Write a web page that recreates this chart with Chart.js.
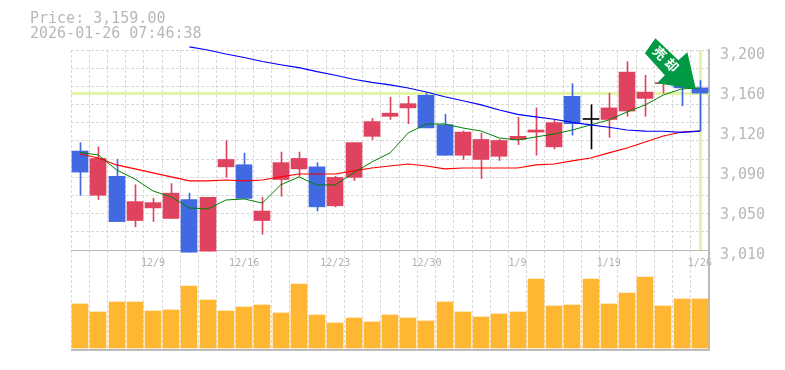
<!DOCTYPE html>
<html>
<head>
<meta charset="utf-8">
<style>
    html, body { margin: 0; padding: 0; background: #fff; }
    canvas { display: block; }
</style>
<script src="https://cdn.jsdelivr.net/npm/chart.js@4"></script>
</head>
<body>
<canvas id="stockChart" width="785" height="370"></canvas>
<script>
const priceText = 'Price: 3,159.00';
const timeText = '2026-01-26 07:46:38';
const arrowChars = ['売', '却'];
const currentPrice = 3159;

// one entry per session, only some carry a date label
const dates = ['', '', '', '', '12/9', '', '', '', '', '12/16', '', '', '', '', '12/23', '', '', '', '', '12/30', '', '', '', '', '1/9', '', '', '', '', '1/19', '', '', '', '', '1/26'];

const opens = [3104, 3062, 3080, 3038, 3050, 3040, 3058, 3009, 3089, 3091, 3038, 3077, 3087, 3089, 3052, 3079, 3118, 3137, 3145, 3157, 3129, 3100, 3096, 3099, 3115, 3122, 3108, 3156, 3134, 3134, 3142, 3154, 3168, 3170, 3164];
const closes = [3084, 3097, 3037, 3056, 3055, 3064, 3008, 3060, 3096, 3059, 3047, 3093, 3097, 3051, 3079, 3112, 3132, 3140, 3149, 3126, 3100, 3122, 3115, 3114, 3118, 3124, 3131, 3130, 3134, 3145, 3179, 3160, 3169, 3164, 3159];
const highs = [3112, 3108, 3096, 3072, 3059, 3073, 3064, 3060, 3114, 3102, 3060, 3103, 3103, 3093, 3080, 3112, 3135, 3155, 3156, 3159, 3139, 3123, 3121, 3115, 3136, 3145, 3134, 3168, 3148, 3159, 3189, 3176, 3170, 3174, 3171];
const lows = [3062, 3058, 3037, 3032, 3037, 3040, 3008, 3009, 3079, 3059, 3025, 3061, 3080, 3047, 3051, 3076, 3115, 3134, 3130, 3126, 3100, 3096, 3078, 3095, 3110, 3100, 3106, 3119, 3106, 3117, 3137, 3137, 3159, 3147, 3123];

const maShort = [3102.6, 3100.3, 3086, 3077.5, 3066.1, 3060.4, 3049.9, 3049, 3057.5, 3058.5, 3054.6, 3071.8, 3079.4, 3071.8, 3071.8, 3083.2, 3093.6, 3102.2, 3121.2, 3129.7, 3129.7, 3125.9, 3123, 3116.4, 3114.5, 3117.4, 3120.2, 3124, 3128.8, 3133.5, 3141.1, 3147.8, 3157.3, 3163, 3163.9];
const maMiddle = [3101.2, 3097.4, 3090.8, 3087, 3083.2, 3079.4, 3075.6, 3075.6, 3076.5, 3075.6, 3076.5, 3079.4, 3082.2, 3082.2, 3082.2, 3085.1, 3087.9, 3089.8, 3091.7, 3089.8, 3087, 3087.9, 3087.9, 3087.9, 3087.9, 3090.8, 3091.7, 3094.6, 3097.4, 3102.2, 3106.9, 3112.6, 3118.3, 3122.1, 3123];
const maLong = [null, null, null, null, null, null, 3202.9, 3200, 3196.2, 3192.9, 3189.1, 3186, 3183.2, 3179.4, 3176, 3172.2, 3169.3, 3166.8, 3163.9, 3160.1, 3155.6, 3151.8, 3147.8, 3143, 3138.9, 3136.4, 3134.2, 3131.3, 3128.8, 3126.6, 3124, 3123, 3122.8, 3121.8, 3123];

const volumes = [440, 360, 460, 460, 370, 380, 620, 480, 370, 410, 430, 350, 640, 330, 250, 300, 260, 330, 300, 270, 460, 360, 310, 340, 360, 690, 420, 430, 690, 440, 550, 710, 420, 490, 490];

// labels sit a little under the price they name, as in the original image
const priceTickValues = [3195.25, 3157.25, 3119.25, 3081.25, 3043.25, 3005.25];
const priceTickLabels = ['3,200', '3,160', '3,120', '3,090', '3,050', '3,010'];
const priceTop = 3200;
const priceBottom = 3010;
const priceGridSteps = 11;

const UP = '#e0435f';
const DOWN = '#4169e1';
const FLAT = '#000000';
const GRID = '#d8d8d8';
const FRAME = '#bbbbbb';
const TEXT = '#b8b8b8';
const MARKER = '#e2f5a6';
const ARROW = '#009944';

function candleColor(i) {
    if (closes[i] > opens[i]) return UP;
    if (closes[i] < opens[i]) return DOWN;
    return FLAT;
}

const candleColors = opens.map((o, i) => candleColor(i));

// price lines drawn under the candles, the arrow and header on top
const overlayPlugin = {
    id: 'overlay',
    afterDatasetUpdate(chart, args) {
        // keep bars on whole pixels so they stay sharp like the original
        const meta = args.meta;
        if (meta.type !== 'bar') return;
        const wick = meta.controller.getDataset().isWick;
        meta.data.forEach(el => {
            el.x = Math.round(el.x) + (wick ? 0.5 : 0);
        });
    },
    beforeDatasetsDraw(chart) {
        const { ctx, chartArea, scales } = chart;
        const y = Math.round(scales.y.getPixelForValue(currentPrice));
        const x = Math.round(scales.x.getPixelForValue(dates.length - 1));
        ctx.save();
        ctx.fillStyle = MARKER;
        ctx.fillRect(chartArea.left, y - 1, chartArea.width, 3);
        ctx.fillRect(x - 1, scales.y.getPixelForValue(priceTop), 3, scales.y.getPixelForValue(priceBottom) - scales.y.getPixelForValue(priceTop));
        ctx.restore();
    },
    afterDraw(chart) {
        const { ctx, scales } = chart;
        const tipX = scales.x.getPixelForValue(dates.length - 1) - 4;
        const tipY = scales.y.getPixelForValue(currentPrice) - 4;
        const outline = [[0, 0], [-39, -6], [-31, -14], [-51, -36], [-40.5, -51], [-17.5, -29], [-8.5, -37]];

        ctx.save();
        ctx.fillStyle = ARROW;
        ctx.beginPath();
        outline.forEach(p => ctx.lineTo(tipX + p[0], tipY + p[1]));
        ctx.closePath();
        ctx.fill();

        ctx.translate(tipX - 30, tipY - 30);
        ctx.rotate(Math.PI / 4);
        ctx.fillStyle = '#ffffff';
        ctx.font = 'bold 13px "Noto Sans CJK JP"';
        ctx.textAlign = 'center';
        ctx.textBaseline = 'middle';
        ctx.fillText(arrowChars[0], -8.5, 0);
        ctx.fillText(arrowChars[1], 8.5, 0);
        ctx.restore();

        ctx.save();
        ctx.fillStyle = TEXT;
        ctx.font = '15px "DejaVu Sans Mono"';
        ctx.textBaseline = 'middle';
        ctx.fillText(priceText, 30, 19);
        ctx.fillText(timeText, 30, 34);
        ctx.restore();
    }
};

const ctx = document.getElementById('stockChart').getContext('2d');
new Chart(ctx, {
    data: {
        labels: dates,
        datasets: [
            { type: 'bar', yAxisID: 'yVol', data: volumes, backgroundColor: '#ffb733', barThickness: 16, grouped: false, order: 5 },
            { type: 'bar', isWick: true, data: lows.map((l, i) => [l, highs[i]]), backgroundColor: candleColors, barThickness: 1, grouped: false, clip: false, order: 4 },
            { type: 'bar', data: opens.map((o, i) => [o, closes[i]]), backgroundColor: candleColors, barThickness: 16, minBarLength: 1, grouped: false, clip: false, order: 3 },
            { type: 'line', data: maMiddle, borderColor: '#ff0000', borderWidth: 1.2, pointRadius: 0, tension: 0, clip: false, order: 2 },
            { type: 'line', data: maShort, borderColor: '#008000', borderWidth: 1, pointRadius: 0, tension: 0, clip: false, order: 1 },
            { type: 'line', data: maLong, borderColor: '#0000ff', borderWidth: 1.2, pointRadius: 0, tension: 0, clip: false, order: 0 }
        ]
    },
    options: {
        responsive: false,
        animation: false,
        events: [],
        layout: { padding: { left: 71, top: 50, bottom: 20, right: 0 } },
        plugins: { legend: { display: false }, tooltip: { enabled: false }, title: { display: false } },
        scales: {
            x: {
                type: 'category',
                offset: true,
                position: { yGrid: priceBottom },
                grid: { offset: true, color: GRID, drawTicks: false },
                border: { display: false, dash: [3, 2] },
                ticks: {
                    autoSkip: false,
                    maxRotation: 0,
                    padding: 7,
                    color: '#b0b0b0',
                    font: { family: '"DejaVu Sans Mono"', size: 10 }
                }
            },
            // labels and the solid right edge
            y: {
                position: 'right',
                min: 2915,
                max: priceTop,
                afterBuildTicks: scale => {
                    scale.ticks = priceTickValues.map(value => ({ value }));
                },
                afterFit: scale => {
                    scale.width = 76;
                },
                grid: { display: false },
                border: { display: true, color: FRAME, width: 2 },
                ticks: {
                    padding: 3,
                    color: TEXT,
                    font: { family: '"DejaVu Sans Mono"', size: 15 },
                    callback: (value, index) => priceTickLabels[index]
                }
            },
            // dashed horizontal grid, solid at the bottom of each pane
            yGrid: {
                position: 'left',
                min: 2915,
                max: priceTop,
                afterBuildTicks: scale => {
                    const ticks = [];
                    for (let i = 0; i <= priceGridSteps; i++) {
                        ticks.push({ value: priceTop - i * (priceTop - priceBottom) / priceGridSteps });
                    }
                    ticks.push({ value: scale.min });
                    scale.ticks = ticks;
                },
                afterFit: scale => {
                    scale.width = 0;
                },
                grid: {
                    drawTicks: false,
                    color: c => (c.tick && c.tick.value <= priceBottom + 0.01 ? FRAME : GRID),
                    lineWidth: c => (c.tick && c.tick.value < priceBottom ? 2 : 1)
                },
                border: {
                    display: false,
                    dash: c => (c.tick && c.tick.value <= priceBottom + 0.01 ? [] : [3, 2])
                },
                ticks: { display: false }
            },
            yVol: {
                display: false,
                min: -20,
                max: 2980
            }
        }
    },
    plugins: [overlayPlugin]
});
</script>
</body>
</html>
